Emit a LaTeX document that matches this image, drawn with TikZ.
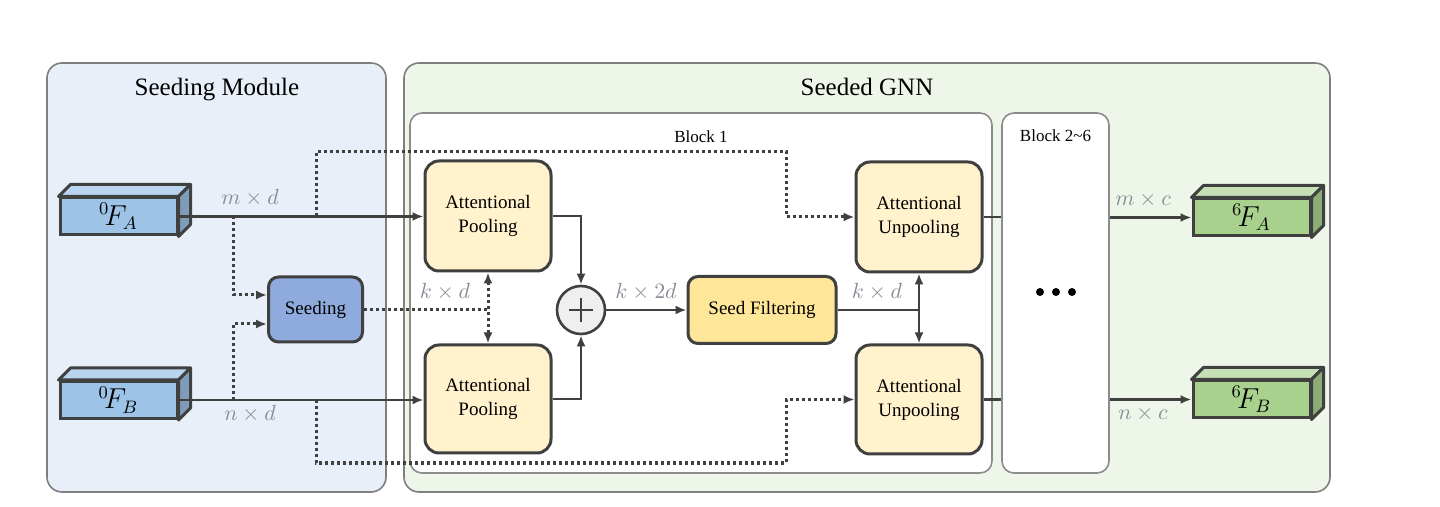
\documentclass[tikz,border=0pt]{standalone}
\usepackage{fontspec}
\setmainfont{Liberation Serif}
\usetikzlibrary{arrows.meta,calc}
\definecolor{dk}{HTML}{404040}
\definecolor{pgray}{HTML}{7F7F7F}
\definecolor{bgray}{HTML}{8C8C8C}
\definecolor{sbg}{HTML}{E8EFF8}
\definecolor{gbg}{HTML}{EEF6EA}
\definecolor{lblc}{HTML}{868C96}
\definecolor{bfront}{HTML}{9DC3E6}
\definecolor{btop}{HTML}{B9D4EE}
\definecolor{bside}{HTML}{7F9DBA}
\definecolor{gfront}{HTML}{A9D18E}
\definecolor{gtop}{HTML}{C5E0B4}
\definecolor{gside}{HTML}{8CAD76}
\definecolor{seedc}{HTML}{8FAADC}
\definecolor{poolc}{HTML}{FFF2CC}
\definecolor{filtc}{HTML}{FFE699}
\definecolor{plusc}{HTML}{EFEFEF}
\begin{document}
\begin{tikzpicture}[x=0.5pt,y=-0.5pt,
  panel/.style={draw=pgray, line width=0.8pt, rounded corners=7.5pt},
  blockbox/.style={draw=bgray, line width=0.8pt, rounded corners=6pt, fill=white},
  ttl/.style={font=\fontsize{12.5}{15}\selectfont, anchor=base},
  box/.style={draw=dk, line width=1.5pt, rounded corners=7pt, align=center,
    inner sep=0pt, font=\fontsize{9.5}{12}\selectfont},
  fbox/.style={draw=dk, line width=1.5pt, inner sep=0pt, minimum width=58.5pt,
    minimum height=18.5pt, font=\fontsize{13.5}{15}\selectfont},
  face/.style={draw=dk, line width=1.5pt, line join=round},
  tip/.style={-{Latex[length=5.5pt,width=4.5pt]}},
  arr/.style={draw=dk, line width=1.25pt, tip},
  ln/.style={draw=dk, line width=1.25pt},
  dotl/.style={draw=dk, line width=1.5pt, dash pattern=on 1.5pt off 1.5pt},
  dotarr/.style={dotl, tip},
  lbl/.style={text=lblc, font=\fontsize{10.5}{12}\selectfont},
]
\useasboundingbox (0,0) rectangle (1440,507);

% panels
\draw[panel, fill=sbg] (47,63) rectangle (386,492);
\draw[panel, fill=gbg] (404,63) rectangle (1330,492);
\node[ttl] (t1) at (217,96) {Seeding Module};
\node[ttl] (t2) at (867,96) {Seeded GNN};
\draw[blockbox] (410,113) rectangle (992,473);
\node[font=\fontsize{8.5}{10}\selectfont] (t3) at (701,137) {Block 1};
\node[blockbox, minimum width=53.5pt, minimum height=180pt] (blk) at (1055.5,293) {};
\node[font=\fontsize{8.5}{10}\selectfont] (t4) at (1055.5,136) {Block 2\textasciitilde 6};
\fill (1040,292) circle (4) (1056,292) circle (4) (1072,292) circle (4);

% feature boxes
\node[fbox, fill=bfront] (fa) at (118.5,216.5) {${}^{0}\!F_{A}$};
\node[fbox, fill=bfront] (fb) at (118.5,400) {${}^{0}\!F_{B}$};
\node[fbox, fill=gfront] (ga) at (1251.5,217.5) {${}^{6}\!F_{A}$};
\node[fbox, fill=gfront] (gb) at (1251.5,399.5) {${}^{6}\!F_{B}$};
\foreach \n/\t/\s in {fa/btop/bside, fb/btop/bside, ga/gtop/gside, gb/gtop/gside}{
  \filldraw[face, fill=\t] (\n.north west) -- ++(12,-12) -- ($(\n.north east)+(12,-12)$) -- (\n.north east) -- cycle;
  \filldraw[face, fill=\s] (\n.north east) -- ++(12,-12) -- ($(\n.south east)+(12,-12)$) -- (\n.south east) -- cycle;
}

% boxes
\node[box, fill=seedc, rounded corners=5pt, minimum width=47pt, minimum height=32.5pt] (seed) at (315.5,309.5) {Seeding};
\node[box, fill=poolc, minimum width=63pt, minimum height=55pt] (poolA) at (488,216) {Attentional\\Pooling};
\node[box, fill=poolc, minimum width=63pt, minimum height=54pt] (poolB) at (488,399) {Attentional\\Pooling};
\node[circle, draw=dk, line width=1.3pt, fill=plusc, minimum size=24pt, inner sep=0pt] (plus) at (581,310) {};
\draw[dk, line width=0.8pt] ($(plus.center)+(-12,0)$) -- ($(plus.center)+(12,0)$)
  ($(plus.center)+(0,-12)$) -- ($(plus.center)+(0,12)$);
\node[box, fill=filtc, rounded corners=5pt, minimum width=74pt, minimum height=33.5pt] (filt) at (762,310) {Seed Filtering};
\node[box, fill=poolc, minimum width=63pt, minimum height=55pt] (unA) at (919,217) {Attentional\\Unpooling};
\node[box, fill=poolc, minimum width=63pt, minimum height=54.5pt] (unB) at (919,399.5) {Attentional\\Unpooling};

% coordinates
\coordinate (ja) at (233,216.5);
\coordinate (jb) at (233,400);
\coordinate (ka) at (316,216.5);
\coordinate (kb) at (316,400);
\coordinate (tt) at (786,152);
\coordinate (bt) at (786,463);

% main arrows
\draw[arr] (fa.east) -- (fa.east -| poolA.west);
\draw[arr] (fb.east) -- (fb.east -| poolB.west);
\draw[arr] (poolA.east) -| (plus.north);
\draw[arr] (poolB.east) -| (plus.south);
\draw[arr] (plus.east) -- (filt.west);
\draw[ln] (filt.east) -- (filt.east -| unA.south);
\draw[ln, {Latex[length=5.5pt,width=4.5pt]}-{Latex[length=5.5pt,width=4.5pt]}] (unA.south) -- (unB.north);
\draw[ln] (unA.east) -- (unA.east -| blk.west);
\draw[ln] (unB.east) -- (unB.east -| blk.west);
\draw[arr] (ga.west -| blk.east) -- (ga.west);
\draw[arr] (gb.west -| blk.east) -- (gb.west);

% dotted
\draw[dotarr] (ja) |- ($(seed.west)+(0,-14.5)$);
\draw[dotarr] (jb) |- ($(seed.west)+(0,14.5)$);
\draw[dotl] (seed.east) -- (seed.east -| poolA.south);
\draw[dotl, {Latex[length=5.5pt,width=4.5pt]}-{Latex[length=5.5pt,width=4.5pt]}] (poolA.south) -- (poolB.north);
\draw[dotarr] (ka) |- (tt) |- (unA.west);
\draw[dotarr] (kb) |- (bt) |- (unB.west);

% labels
\node[lbl] (l1) at (250,198) {$m\times d$};
\node[lbl] (l2) at (250,414) {$n\times d$};
\node[lbl] (l3) at (445,292) {$k\times d$};
\node[lbl] (l4) at (646,292) {$k\times 2d$};
\node[lbl] (l5) at (877,292) {$k\times d$};
\node[lbl] (l6) at (1143,200) {$m\times c$};
\node[lbl] (l7) at (1143,414) {$n\times c$};
\end{tikzpicture}
\end{document}
